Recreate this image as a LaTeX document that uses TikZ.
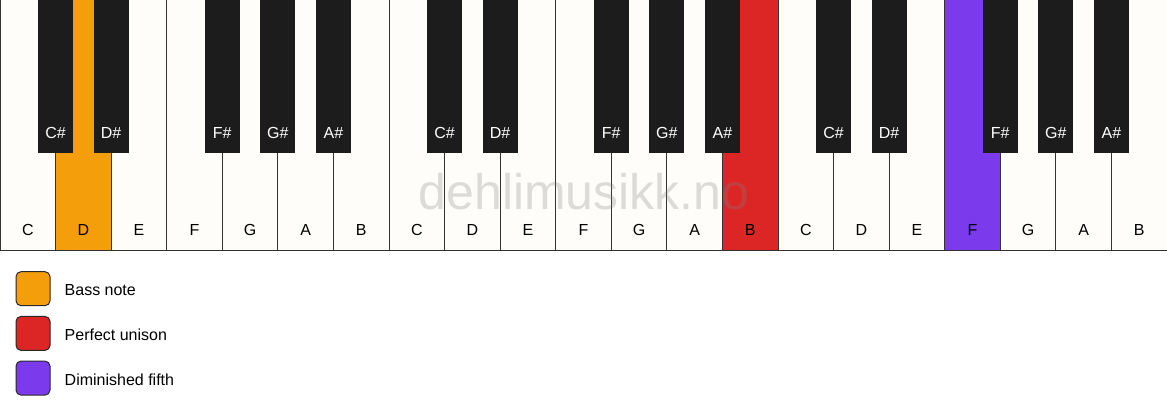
\documentclass[tikz,border=0pt]{standalone}
\usepackage{fontspec}
\setmainfont{Liberation Sans}
\usetikzlibrary{positioning}
\definecolor{keywhite}{HTML}{FFFDF9}
\definecolor{keyblack}{HTML}{1C1C1C}
\definecolor{keyline}{HTML}{333333}
\definecolor{bassnote}{HTML}{F59E0B}
\definecolor{unison}{HTML}{DC2626}
\definecolor{dimfifth}{HTML}{7C3AED}
\tikzset{
 whitekey/.style={draw=keyline,line width=1pt,minimum width=55.571pt,minimum height=250pt,inner sep=0pt,outer sep=0pt,anchor=north west},
 blackkey/.style={fill=keyblack,minimum width=35pt,minimum height=153pt,inner sep=0pt,outer sep=0pt,anchor=north},
 legendbox/.style={draw=keyline!80!black,line width=1pt,rounded corners=5pt,minimum size=34pt,inner sep=0pt}
}
\begin{document}
\begin{tikzpicture}[x=1pt,y=-1pt,font=\fontsize{16}{19}\selectfont]
 \def\w{55.571}%white key width
 \def\o{2}%octaves - 1
 \useasboundingbox (0,0) rectangle (1167,417);
 % white keys
 \foreach \n/\f [count=\i from 0] in {C/keywhite,D/bassnote,E/keywhite,F/keywhite,G/keywhite,A/keywhite,B/keywhite,
 C/keywhite,D/keywhite,E/keywhite,F/keywhite,G/keywhite,A/keywhite,B/unison,
 C/keywhite,D/keywhite,E/keywhite,F/dimfifth,G/keywhite,A/keywhite,B/keywhite}{
 \path (\i*\w,0) node[whitekey,fill=\f] (w\i) {};
 \path (w\i.south) ++(0,-20) node (lw\i) {\n};
 }
 % black keys
 \foreach \a in {0,...,\o}{
 \foreach \k/\n in {0/C,1/D,3/F,4/G,5/A}{
 \pgfmathtruncatemacro\i{7*\a+\k}
 \path (w\i.north east) node[blackkey] (b\i) {};
 \path (b\i.south) ++(0,-20) node[text=white] (lb\i) {\n\#};
 }
 }
 \path (584,192) node[text=gray,text opacity=0.27,font=\fontsize{50}{60}\selectfont] (mark) {dehlimusikk.no};
 % legend
 \foreach \c/\t [count=\j from 0] in {bassnote/Bass note,unison/Perfect unison,dimfifth/Diminished fifth}
 \path (33,288.7+\j*44.7) node[legendbox,fill=\c] (s\j) {}
 node[right=14pt of s\j,inner sep=0pt,yshift=-1.5pt] (t\j) {\t};
\end{tikzpicture}
\end{document}
